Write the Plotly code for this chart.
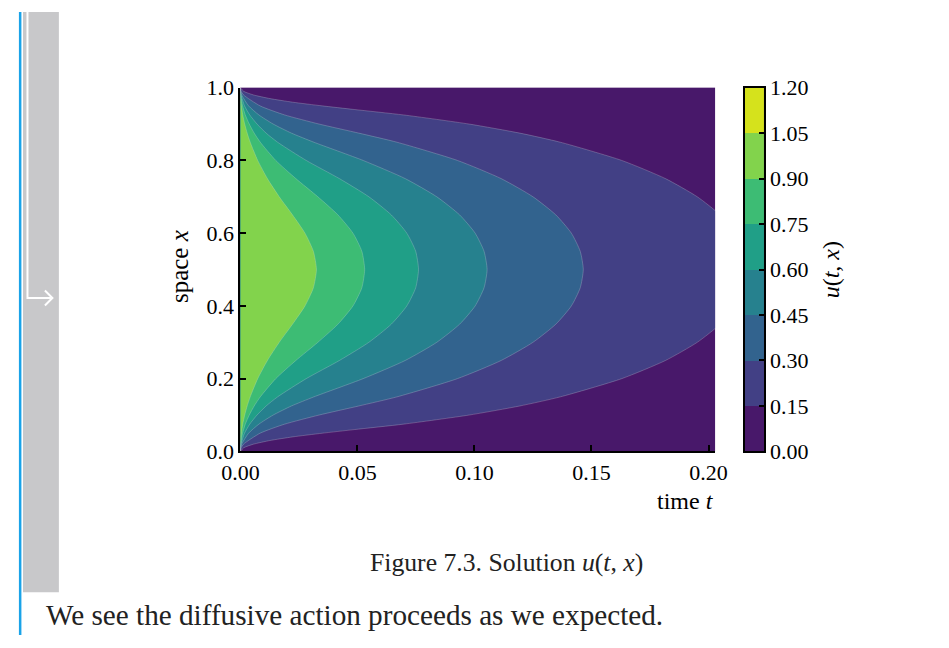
import plotly.graph_objects as go

W, H = 949, 648

# contour levels and band colours (viridis sampled at band mid-points)
levels = [0.00, 0.15, 0.30, 0.45, 0.60, 0.75, 0.90, 1.05, 1.20]
band_colors = ["#48186a", "#424085", "#32638e", "#26818e",
               "#209f87", "#3dbc74", "#82d34c", "#d5e21c"]

# lower-half (space x from 0 to 0.5) boundary curves: time t where u(t,x) = level
# (the solution is symmetric about x = 0.5)
x_l015 = [0, 0.01, 0.02, 0.03, 0.04, 0.05, 0.06, 0.075, 0.1, 0.125, 0.15, 0.2, 0.25, 0.3, 0.35, 0.4, 0.45, 0.5]
t_l015 = [0, 0.0014, 0.0056, 0.0126, 0.0224, 0.0349, 0.0486, 0.0697, 0.0977, 0.1194, 0.1367, 0.1629, 0.1816, 0.1952, 0.2050, 0.2116, 0.2154, 0.2167]

x_l030 = [0, 0.01, 0.02, 0.05, 0.075, 0.1, 0.125, 0.15, 0.2, 0.25, 0.3, 0.35, 0.4, 0.45, 0.5]
t_l030 = [0, 0.00034, 0.00135, 0.0084, 0.0189, 0.0336, 0.0506, 0.0669, 0.0927, 0.1114, 0.1250, 0.1348, 0.1414, 0.1452, 0.1465]

x_l045 = [0, 0.01, 0.02, 0.05, 0.075, 0.1, 0.125, 0.15, 0.2, 0.25, 0.3, 0.35, 0.4, 0.45, 0.5]
t_l045 = [0, 0.00014, 0.00056, 0.0035, 0.0079, 0.0140, 0.0218, 0.0314, 0.0524, 0.0704, 0.0839, 0.0937, 0.1003, 0.1041, 0.1054]

x_l060 = [0, 0.01, 0.02, 0.05, 0.075, 0.1, 0.125, 0.15, 0.2, 0.25, 0.3, 0.35, 0.4, 0.45, 0.5]
t_l060 = [0, 0.00007, 0.00028, 0.00177, 0.0040, 0.0071, 0.0110, 0.0159, 0.0281, 0.0423, 0.0549, 0.0645, 0.0711, 0.0749, 0.0761]

x_l075 = [0, 0.01, 0.02, 0.05, 0.075, 0.1, 0.125, 0.15, 0.2, 0.25, 0.3, 0.35, 0.4, 0.45, 0.5]
t_l075 = [0, 0.00004, 0.00015, 0.00095, 0.0021, 0.0038, 0.0059, 0.0085, 0.0151, 0.0237, 0.0331, 0.0417, 0.0481, 0.0519, 0.0531]

x_l090 = [0, 0.01, 0.02, 0.05, 0.075, 0.1, 0.125, 0.15, 0.2, 0.25, 0.3, 0.35, 0.4, 0.45, 0.5]
t_l090 = [0, 0.00002, 0.00007, 0.00046, 0.0010, 0.00185, 0.0029, 0.0042, 0.0074, 0.01155, 0.0166, 0.0223, 0.0276, 0.0312, 0.0325]

curves = [(x_l015, t_l015), (x_l030, t_l030), (x_l045, t_l045),
          (x_l060, t_l060), (x_l075, t_l075), (x_l090, t_l090)]

x_ticks = [0.00, 0.05, 0.10, 0.15, 0.20]
x_ticktext = ["0.00", "0.05", "0.10", "0.15", "0.20"]
y_ticks = [0.0, 0.2, 0.4, 0.6, 0.8, 1.0]
y_ticktext = ["0.0", "0.2", "0.4", "0.6", "0.8", "1.0"]
cb_ticktext = ["0.00", "0.15", "0.30", "0.45", "0.60", "0.75", "0.90", "1.05", "1.20"]

FONT = "Liberation Serif, DejaVu Serif, serif"

# the photographed page shows the figure slightly shrunk and offset;
# target pixel positions are mapped back through that transform
SX, OX = 0.970, 16.0
SY, OY = 0.962, 12.3


def rx(x):
    return (x - OX) / SX


def ry(y):
    return (y - OY) / SY


def px(x):
    return max(0.0, min(1.0, rx(x) / W))


def py(y):
    return max(0.0, min(1.0, 1 - ry(y) / H))


fig = go.Figure()

for i, (xs, ts) in enumerate(curves):
    # full closed boundary: lower half then mirrored upper half
    xx = list(xs) + [1 - v for v in reversed(xs[:-1])]
    tt = list(ts) + list(reversed(ts[:-1]))
    fig.add_trace(go.Scatter(
        x=tt, y=xx, mode="lines", fill="toself",
        fillcolor=band_colors[i + 1],
        line=dict(color="rgba(230,230,230,0.35)", width=0.7, shape="spline", smoothing=0.6),
        hoverinfo="skip", showlegend=False, xaxis="x", yaxis="y"))

# colour bar drawn as stacked bars of the level bands
fig.add_trace(go.Bar(
    x=[0] * (len(levels) - 1),
    y=[levels[i + 1] - levels[i] for i in range(len(levels) - 1)],
    base=levels[:-1],
    marker=dict(color=band_colors, line=dict(width=0)),
    width=1.0, xaxis="x2", yaxis="y2", showlegend=False, hoverinfo="skip"))

x0, x1 = 238, 714
y0, y1 = 88, 452
cbx0, cbx1 = 744, 763

axis_font = dict(family=FONT, size=22, color="black")

fig.update_layout(
    width=W, height=H,
    margin=dict(l=0, r=0, t=0, b=0),
    paper_bgcolor="white",
    plot_bgcolor=band_colors[0],
    bargap=0,
    xaxis=dict(domain=[px(x0), px(x1)], range=[0, 0.2028], showgrid=False, zeroline=False,
               showline=True, linecolor="black", linewidth=2,
               ticks="inside", ticklen=6, tickwidth=1.5, tickcolor="black",
               tickvals=x_ticks, ticktext=x_ticktext, tickfont=axis_font, anchor="y"),
    yaxis=dict(domain=[py(y1), py(y0)], range=[0, 1], showgrid=False, zeroline=False,
               showline=True, linecolor="black", linewidth=2,
               ticks="inside", ticklen=6, tickwidth=1.5, tickcolor="black",
               tickvals=y_ticks, ticktext=y_ticktext, tickfont=axis_font, anchor="x"),
    xaxis2=dict(domain=[px(cbx0), px(cbx1)], range=[-0.5, 0.5], showgrid=False, zeroline=False,
                showticklabels=False, ticks="", showline=True, mirror=True,
                linecolor="black", linewidth=1.5, anchor="y2", fixedrange=True),
    yaxis2=dict(domain=[py(y1), py(y0)], range=[0, 1.2], side="right", anchor="x2",
                showgrid=False, zeroline=False, showline=True, mirror=True,
                linecolor="black", linewidth=1.5,
                ticks="inside", ticklen=5, tickwidth=1.5, tickcolor="black",
                tickvals=levels, ticktext=cb_ticktext, tickfont=axis_font),
)

label_font = dict(family=FONT, size=24, color="black")
fig.add_annotation(text="time <i>t</i>", x=px(715), y=py(502), xref="paper", yref="paper",
                   xanchor="right", yanchor="middle", showarrow=False, font=label_font)
fig.add_annotation(text="space <i>x</i>", x=px(177), y=py(267), xref="paper", yref="paper",
                   xanchor="center", yanchor="middle", textangle=-90, showarrow=False,
                   font=dict(family=FONT, size=25, color="black"))
fig.add_annotation(text="<i>u</i>(<i>t</i>, <i>x</i>)", x=px(830), y=py(270), xref="paper", yref="paper",
                   xanchor="center", yanchor="middle", textangle=-90, showarrow=False, font=label_font)
fig.add_annotation(text="Figure 7.3. Solution <i>u</i>(<i>t</i>, <i>x</i>)", x=px(505), y=py(563),
                   xref="paper", yref="paper", xanchor="center", yanchor="middle", showarrow=False,
                   font=dict(family=FONT, size=25.7, color="#222222"))
fig.add_annotation(text="We see the diffusive action proceeds as we expected.", x=px(41), y=py(616),
                   xref="paper", yref="paper", xanchor="left", yanchor="middle", showarrow=False,
                   font=dict(family=FONT, size=29.2, color="#222222"))

# page decorations: blue rule, grey margin bar and white arrow
shapes = [
    dict(type="line", xref="paper", yref="paper", x0=1.2 / W, x1=1.2 / W, y0=1.0, y1=0.0,
         line=dict(color="#1aa3e8", width=2.5)),
    dict(type="rect", xref="paper", yref="paper", x0=px(20), x1=px(56), y0=py(6), y1=py(593),
         fillcolor="#c8c8ca", line=dict(width=0), layer="below"),
    dict(type="path", xref="paper", yref="paper",
         path=f"M {px(24.5)},{py(12)} L {px(24.5)},{py(298.5)} L {px(49)},{py(298.5)}",
         line=dict(color="white", width=2)),
    dict(type="path", xref="paper", yref="paper",
         path=f"M {px(42)},{py(291)} L {px(49.5)},{py(298.5)} L {px(42)},{py(306)}",
         line=dict(color="white", width=2)),
]
fig.update_layout(shapes=shapes)

fig.write_html(
    "out.html",
    config={"responsive": False, "displayModeBar": False},
    post_script="document.body.style.margin='0';document.body.style.padding='0';"
                "document.documentElement.style.overflow='hidden';",
)
